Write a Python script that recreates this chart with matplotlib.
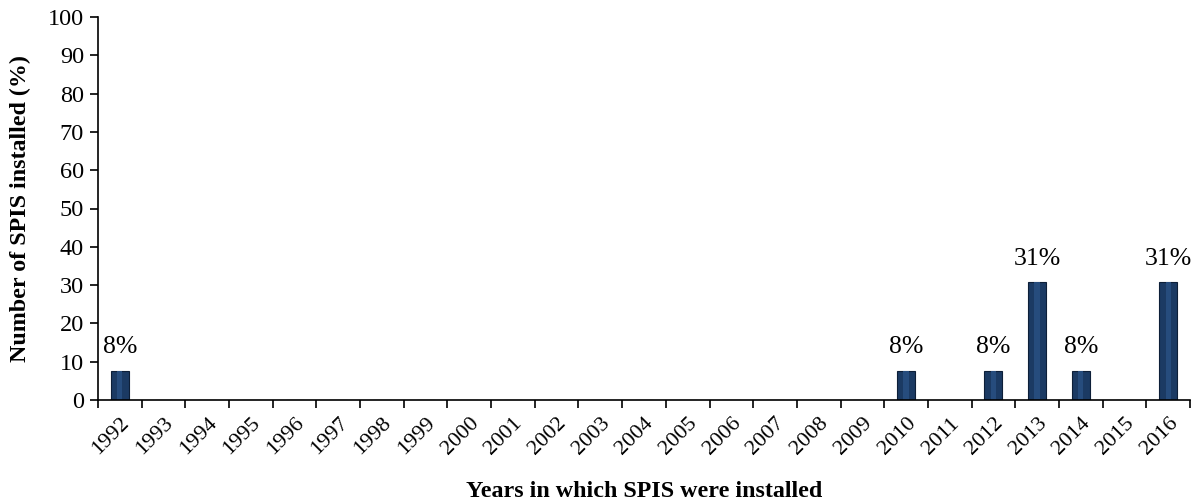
import numpy as np
import matplotlib.pyplot as plt

plt.rcParams['font.family'] = ['Liberation Serif', 'DejaVu Serif']

years = [str(y) for y in range(1992, 2017)]
share = [7.69, 0, 0, 0, 0, 0, 0, 0, 0, 0, 0, 0, 0, 0, 0, 0, 0, 0,
         7.69, 0, 7.69, 30.77, 7.69, 0, 30.77]
labels = ['8%' if v > 0 and v < 10 else '31%' if v > 0 else '' for v in share]

fig = plt.figure(figsize=(12.01, 5.04), dpi=100)
ax = fig.add_axes([98/1201, 1 - 400/504, (1190 - 98)/1201, (400 - 17)/504])

x = np.arange(len(years))
bars = ax.bar(x, share, width=0.41, color='#1b3a63', edgecolor='#0d1f38', linewidth=0.8)
# light bevel line down the middle of each bar
for i, b in enumerate(bars):
    if b.get_height() > 0:
        ax.bar(x[i], b.get_height(), width=0.12, color='#264c7d', linewidth=0)
        ax.text(x[i], b.get_height() + 3.3, labels[i],
                ha='center', va='bottom', fontsize=18.5)

ax.set_xlim(-0.5, len(years) - 0.5)
ax.set_ylim(0, 100)
ax.set_yticks(range(0, 101, 10))
ax.set_xticks(np.append(x - 0.5, len(years) - 0.5))
ax.set_xticklabels([''] * (len(years) + 1))
ax.set_xticks(x, minor=True)
ax.set_xticklabels(years, minor=True, rotation=45, ha='right', rotation_mode='anchor')
ax.tick_params(axis='x', which='minor', length=0, pad=10, labelsize=16)
ax.tick_params(axis='x', which='major', length=6, width=1.2, direction='out')
ax.tick_params(axis='y', length=6, width=1.2, direction='out', labelsize=17.5, pad=4)

for s in ['top', 'right']:
    ax.spines[s].set_visible(False)
for s in ['left', 'bottom']:
    ax.spines[s].set_linewidth(1.2)

ax.set_xlabel('Years in which SPIS were installed', fontsize=17.3, fontweight='bold', labelpad=16)
ax.set_ylabel('Number of SPIS installed (%)', fontsize=17.3, fontweight='bold', labelpad=12)

fig.savefig('out.png', dpi=100)
